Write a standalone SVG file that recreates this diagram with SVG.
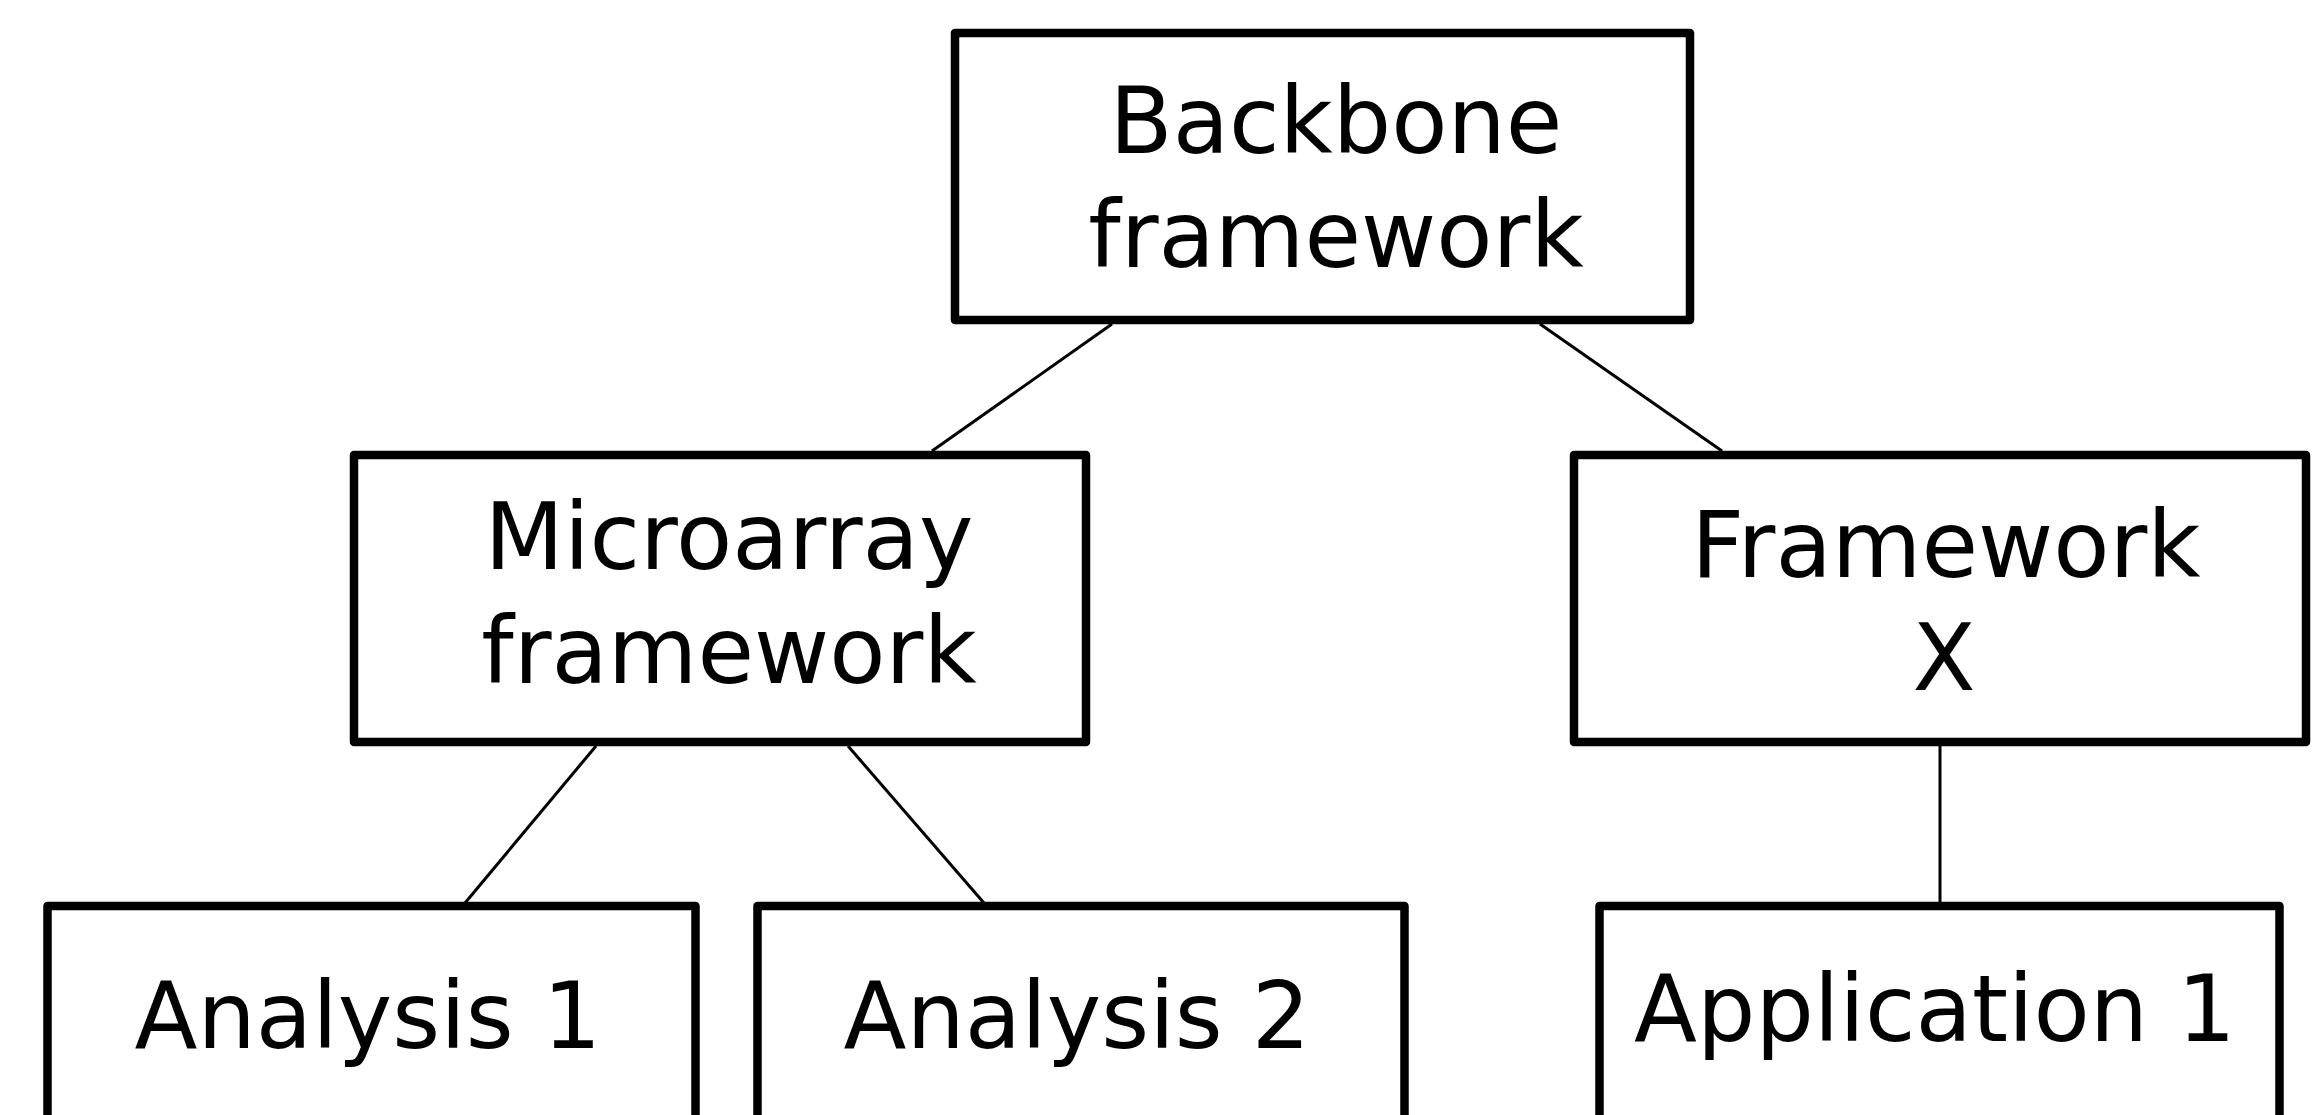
<svg xmlns="http://www.w3.org/2000/svg" width="2320" height="1115" viewBox="0 0 2320 1115">
  <style>
    .box { fill: #ffffff; stroke: #000000; stroke-width: 8.5; stroke-linejoin: round; }
    .lbl { font-family: "DejaVu Sans", "Liberation Sans", sans-serif; font-size: 92px; fill: #000000; text-anchor: middle; }
    .edge { stroke: #000000; stroke-width: 3; fill: none; }
  </style>
  <rect width="2320" height="1115" fill="#ffffff"/>

  <!-- tree connectors -->
  <g id="connectors">
    <line class="edge" x1="1112" y1="324" x2="932" y2="451"/>
    <line class="edge" x1="1540" y1="324" x2="1722" y2="451"/>
    <line class="edge" x1="596" y1="746" x2="465" y2="903"/>
    <line class="edge" x1="848" y1="746" x2="984" y2="903"/>
    <line class="edge" x1="1940" y1="746" x2="1940" y2="903"/>
  </g>

  <g id="backbone">
    <rect class="box" x="955" y="33" width="735" height="287"/>
    <text class="lbl" x="1336" y="153">Backbone</text>
    <text class="lbl" x="1336" y="267">framework</text>
  </g>

  <g id="microarray">
    <rect class="box" x="354" y="455" width="732" height="287"/>
    <text class="lbl" x="729" y="569">Microarray</text>
    <text class="lbl" x="729" y="683">framework</text>
  </g>

  <g id="framework-x">
    <rect class="box" x="1574" y="455" width="732" height="287"/>
    <text class="lbl" x="1946" y="577">Framework</text>
    <text class="lbl" x="1944" y="690">X</text>
  </g>

  <g id="analysis-1">
    <rect class="box" x="47.5" y="906" width="648" height="287"/>
    <text class="lbl" x="368" y="1048">Analysis 1</text>
  </g>

  <g id="analysis-2">
    <rect class="box" x="757.5" y="906" width="647" height="287"/>
    <text class="lbl" x="1077" y="1048">Analysis 2</text>
  </g>

  <g id="application-1">
    <rect class="box" x="1599.5" y="906" width="680" height="287"/>
    <text class="lbl" x="1935" y="1041">Application 1</text>
  </g>
</svg>
